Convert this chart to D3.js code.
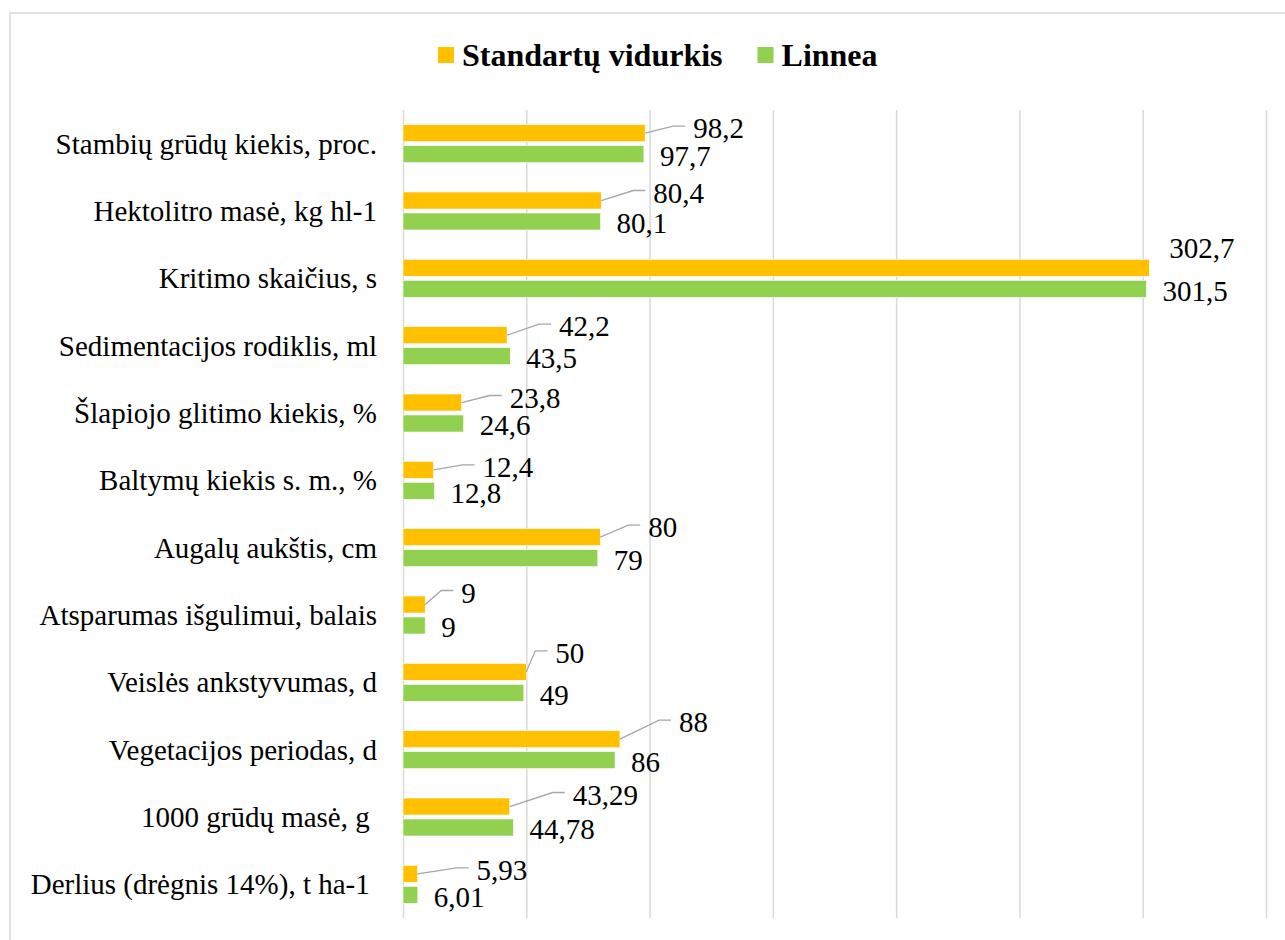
<!DOCTYPE html>
<html>
<head>
<meta charset="utf-8">
<script src="https://cdn.jsdelivr.net/npm/d3@7"></script>
<style>
  text { font-family: 'Liberation Serif'; }
</style>
</head>
<body style="margin:0">
<svg class="js-chart" width="1285" height="940"></svg>
<script>
// data
var categories = [
  'Stambių grūdų kiekis, proc.',
  'Hektolitro masė, kg hl-1',
  'Kritimo skaičius, s',
  'Sedimentacijos rodiklis, ml',
  'Šlapiojo glitimo kiekis, %',
  'Baltymų kiekis s. m., %',
  'Augalų aukštis, cm',
  'Atsparumas išgulimui, balais',
  'Veislės ankstyvumas, d',
  'Vegetacijos periodas, d',
  '1000 grūdų masė, g ',
  'Derlius (drėgnis 14%), t ha-1 '
];
var seriesNames = ['Standartų vidurkis', 'Linnea'];
var standartuVidurkis = [98.2, 80.4, 302.7, 42.2, 23.8, 12.4, 80, 9, 50, 88, 43.29, 5.93];
var linnea = [97.7, 80.1, 301.5, 43.5, 24.6, 12.8, 79, 9, 49, 86, 44.78, 6.01];
var xTicks = [0, 50, 100, 150, 200, 250, 300, 350];

// hand-placed label offsets for the first series (dx, dy from bar end)
var stdLabelNudge = [[48, -5], [52, -8], [20, -20], [52, -9], [48, -5], [49, -3],
                     [48, -10], [36, -12], [29, -19], [59, -17], [63, -12], [59, -4]];

var COLORS = ['#FFC000', '#92D050'],
    SERIF = 'Liberation Serif',
    FONT_SIZE = 29,
    svg = d3.select('.js-chart'),
    plot = { left: 403, right: 1266, top: 110, bottom: 918 };

var rows = categories.map(function(c, i) {
  return { name: c, values: [standartuVidurkis[i], linnea[i]], i: i };
});

var x = d3.scaleLinear().domain([0, 350]).range([plot.left, plot.right]);
var y0 = d3.scaleBand().domain(categories).range([plot.top, plot.bottom])
    .paddingInner(0.436).paddingOuter(0.218);
var y1 = d3.scaleBand().domain(seriesNames).range([0, y0.bandwidth()]).paddingInner(0.19);

function fmt(v) { return String(v).replace('.', ','); }

function serif(sel) {
  return sel.attr('font-family', SERIF).style('font-family', "'" + SERIF + "'");
}

// outer frame
svg.append('rect')
    .attr('x', 10).attr('y', 13)
    .attr('width', 1300).attr('height', 960)
    .attr('fill', 'none').attr('stroke', '#d9d9d9').attr('stroke-width', 1.5);

// gridlines
svg.append('g')
    .attr('transform', 'translate(0,' + plot.bottom + ')')
    .call(d3.axisBottom(x).tickValues(xTicks).tickSize(-(plot.bottom - plot.top)).tickFormat(''))
    .call(function(g) {
      g.select('.domain').remove();
      g.selectAll('.tick text').remove();
      g.attr('font-family', null);
      g.selectAll('.tick line').attr('stroke', '#d9d9d9').attr('stroke-width', 1.5);
    });

// category labels (trailing spaces kept, like the original)
svg.append('g')
    .selectAll('text')
    .data(categories)
    .enter()
    .append('text')
    .attr('x', plot.left - 26)
    .attr('y', function(d) { return y0(d) + y0.bandwidth() / 2; })
    .attr('text-anchor', 'end')
    .attr('dominant-baseline', 'central')
    .attr('font-size', FONT_SIZE)
    .style('white-space', 'pre')
    .call(serif)
    .attr('fill', '#000')
    .text(function(d) { return d; });

// bars
var group = svg.selectAll('g.cat')
    .data(rows)
    .enter()
    .append('g')
    .attr('class', 'cat')
    .attr('transform', function(d) { return 'translate(0,' + y0(d.name) + ')'; });

group.selectAll('rect')
    .data(function(d) { return d.values.map(function(v, k) { return { v: v, k: k, i: d.i }; }); })
    .enter()
    .append('rect')
    .attr('x', x(0))
    .attr('y', function(d) { return y1(seriesNames[d.k]); })
    .attr('width', function(d) { return x(d.v) - x(0); })
    .attr('height', y1.bandwidth())
    .attr('fill', function(d) { return COLORS[d.k]; })
    .attr('stroke', '#fff')
    .attr('stroke-width', 0.6);

// labels for first series, with leader lines
group.each(function(d) {
  var g = d3.select(this),
      v = d.values[0],
      endX = x(v),
      cy = y1(seriesNames[0]) + y1.bandwidth() / 2,
      nudge = stdLabelNudge[d.i],
      tx = endX + nudge[0],
      ty = cy + nudge[1];
  if (nudge[0] > 25) {
    g.append('polyline')
        .attr('points', [[endX, cy], [tx - 20, ty - 2], [tx - 8, ty - 2]].map(function(p) { return p.join(','); }).join(' '))
        .attr('fill', 'none')
        .attr('stroke', '#a6a6a6')
        .attr('stroke-width', 1.3);
  }
  g.append('text')
      .attr('x', tx)
      .attr('y', ty)
      .attr('dominant-baseline', 'central')
      .attr('font-size', FONT_SIZE)
      .call(serif)
      .attr('fill', '#000')
      .text(fmt(v));

  // second series label
  var v2 = d.values[1],
      cy2 = y1(seriesNames[1]) + y1.bandwidth() / 2;
  g.append('text')
      .attr('x', x(v2) + 16)
      .attr('y', cy2 + 2)
      .attr('dominant-baseline', 'central')
      .attr('font-size', FONT_SIZE)
      .call(serif)
      .attr('fill', '#000')
      .text(fmt(v2));
});

// legend
var legend = svg.append('g').attr('transform', 'translate(438,55)');
var legendX = 0;
seriesNames.forEach(function(name, k) {
  var item = legend.append('g').attr('transform', 'translate(' + legendX + ',0)');
  item.append('rect')
      .attr('x', 0).attr('y', -8)
      .attr('width', 16).attr('height', 16)
      .attr('fill', COLORS[k]);
  var t = item.append('text')
      .attr('x', 24)
      .attr('y', 0)
      .attr('dominant-baseline', 'central')
      .attr('font-size', 32)
      .attr('font-weight', 'bold')
      .call(serif)
      .attr('fill', '#000')
      .text(name);
  legendX += 24 + t.node().getComputedTextLength() + 35;
});
</script>
</body>
</html>
